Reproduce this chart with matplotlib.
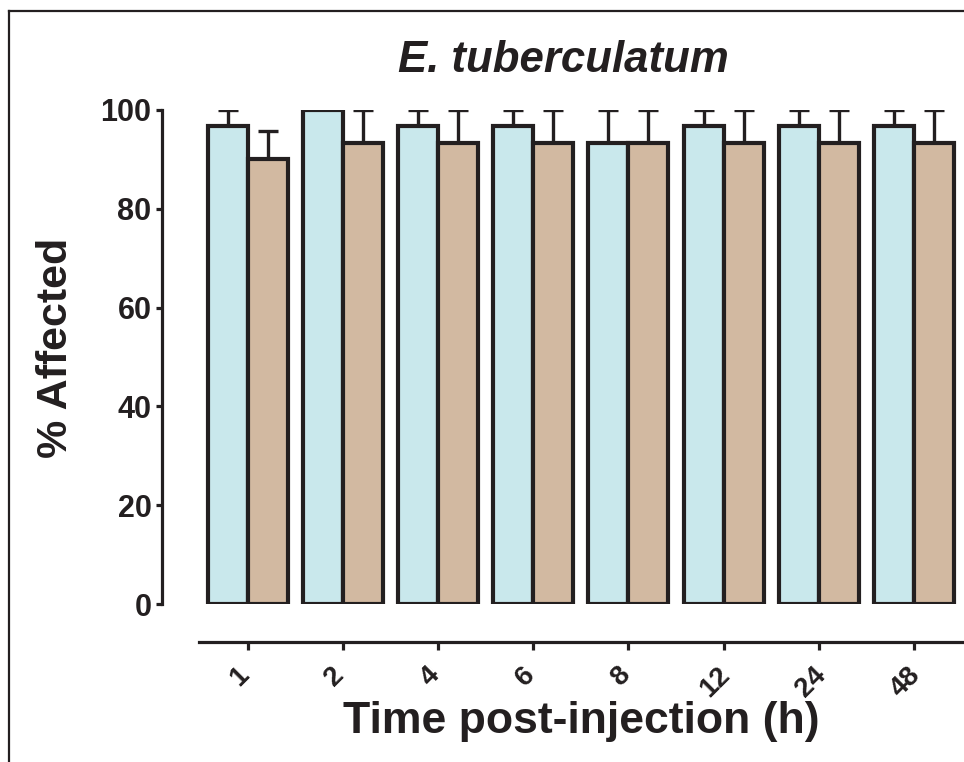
import numpy as np
import matplotlib
matplotlib.use("Agg")
import matplotlib.pyplot as plt
from matplotlib.lines import Line2D
from matplotlib.transforms import ScaledTranslation

# Data: percentage of animals affected after injection
time_labels = ["1", "2", "4", "6", "8", "12", "24", "48"]
group_a_mean = [96.7, 100.0, 96.7, 96.7, 93.3, 96.7, 96.7, 96.7]
group_a_err = [3.3, 0.0, 3.3, 3.3, 6.7, 3.3, 3.3, 3.3]
group_b_mean = [90.0, 93.3, 93.3, 93.3, 93.3, 93.3, 93.3, 93.3]
group_b_err = [5.8, 6.7, 6.7, 6.7, 6.7, 6.7, 6.7, 6.7]
y_ticks = [0, 20, 40, 60, 80, 100]

plt.rcParams["font.family"] = ["Liberation Sans", "DejaVu Sans"]
ink = "#231f20"
blue = "#c9e8ec"
tan = "#d2b9a1"

W, H = 964, 762
fig = plt.figure(figsize=(W / 100, H / 100), dpi=100)

# axes placed in pixel terms: y axis at x=162, y=0 at 604 px, y=100 at 110 px
ax_left, ax_right = 162, 971
ax_bottom, ax_top = 604, 110
ax = fig.add_axes([ax_left / W, 1 - ax_bottom / H,
                   (ax_right - ax_left) / W, (ax_bottom - ax_top) / H])

x = np.arange(len(time_labels))
bw = 0.42
off = 0.21
ax.bar(x - off, group_a_mean, width=bw, color=blue, edgecolor=ink,
       linewidth=3, zorder=3)
ax.bar(x + off, group_b_mean, width=bw, color=tan, edgecolor=ink,
       linewidth=3, zorder=3)

lo = np.zeros(len(x))
ax.errorbar(x - off, group_a_mean, yerr=[lo, group_a_err], fmt="none",
            ecolor=ink, elinewidth=2.4, capsize=7.5, capthick=2.4, zorder=2)
ax.errorbar(x + off, group_b_mean, yerr=[lo, group_b_err], fmt="none",
            ecolor=ink, elinewidth=2.4, capsize=7.5, capthick=2.4, zorder=2)

ax.set_xlim(-0.9, 7.6)
ax.set_ylim(0, 100)

for s in ("top", "right"):
    ax.spines[s].set_visible(False)
ax.spines["left"].set_linewidth(2.3)
ax.spines["left"].set_color(ink)
ax.spines["left"].set_bounds(0, 100)
ax.spines["bottom"].set_linewidth(2.3)
ax.spines["bottom"].set_color(ink)
ax.spines["bottom"].set_position(("outward", 27.5))
ax.spines["bottom"].set_bounds(-0.51, 7.6)

ax.set_yticks(y_ticks)
ax.set_yticklabels([str(v) for v in y_ticks], fontsize=22, fontweight="bold",
                   color=ink)
ax.tick_params(axis="y", direction="out", length=4.5, width=2.3, color=ink,
               pad=3)

ax.set_xticks(x)
ax.set_xticklabels(time_labels, fontsize=20, fontweight="bold", color=ink,
                   rotation=45, ha="center")
ax.tick_params(axis="x", direction="out", length=5.5, width=2.3, color=ink,
               pad=8.5)
shift = ScaledTranslation(-8 / 100, 0, fig.dpi_scale_trans)
for lab in ax.get_xticklabels():
    lab.set_transform(lab.get_transform() + shift)

fig.text(563 / W, 1 - 72 / H, "E. tuberculatum", fontsize=31.5,
         fontweight="bold", fontstyle="italic", color=ink,
         ha="center", va="baseline")
fig.text(56 / W, 1 - 348 / H, "% Affected", fontsize=31, fontweight="bold",
         color=ink, rotation=90, ha="center", va="center")
fig.text(581 / W, 1 - 722 / H, "Time post-injection (h)", fontsize=32,
         fontweight="bold", color=ink, ha="center", va="center")

# outer frame
fy = 1 - 11 / H
fx = 9 / W
fig.add_artist(Line2D([fx, 1.0], [fy, fy], transform=fig.transFigure,
                      color=ink, linewidth=1.6))
fig.add_artist(Line2D([fx, fx], [0.0, fy], transform=fig.transFigure,
                      color=ink, linewidth=1.6))

fig.savefig("out.png", dpi=100)
